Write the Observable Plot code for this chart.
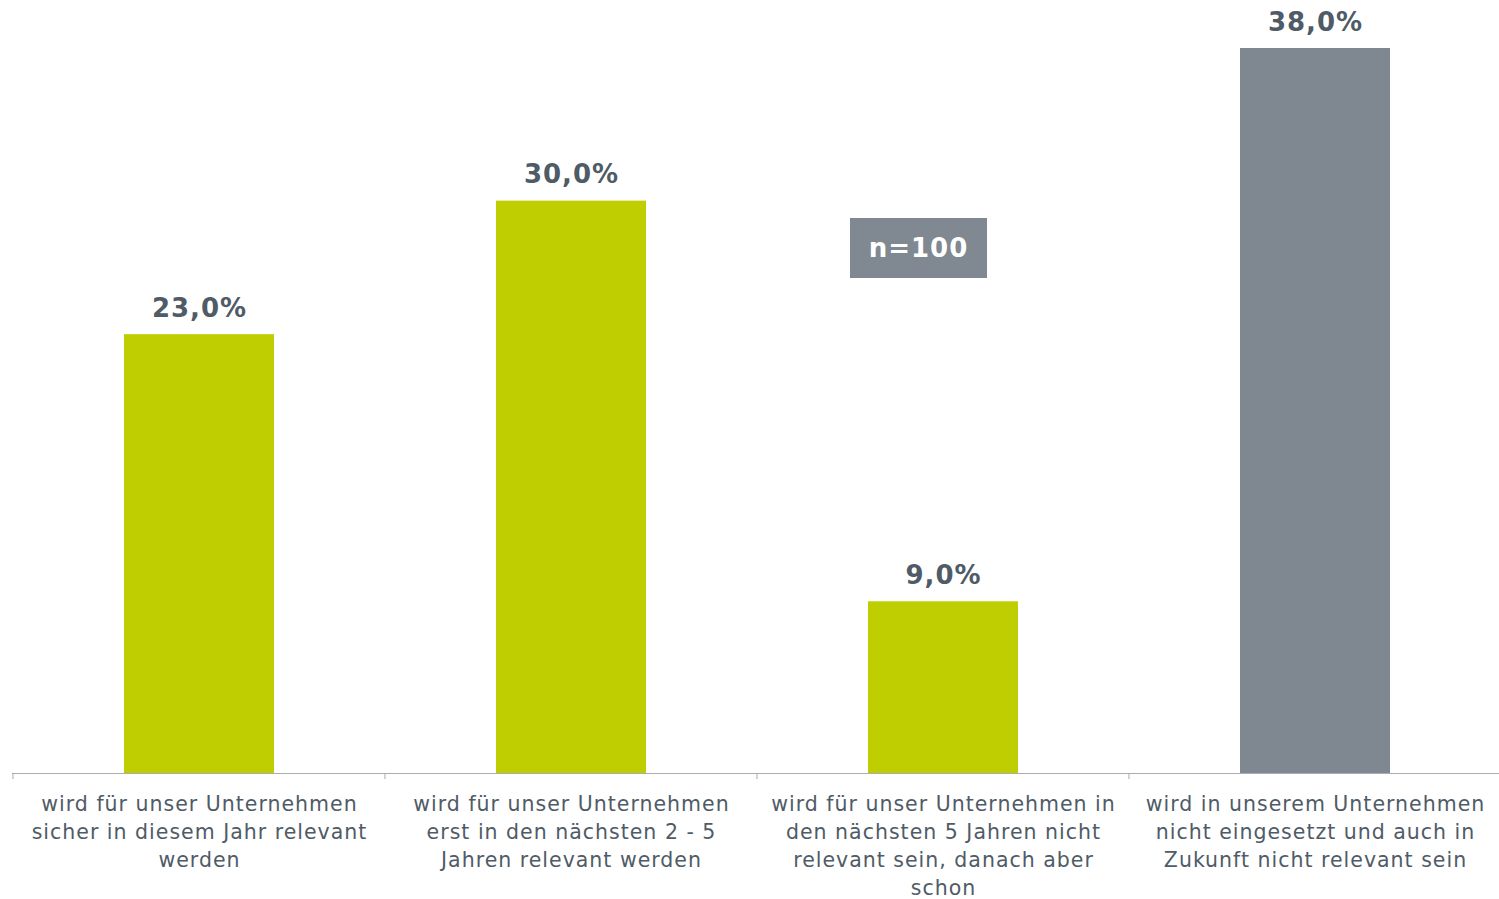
<!DOCTYPE html>
<html>
<head>
<meta charset="utf-8">
<script src="https://cdn.jsdelivr.net/npm/d3@7"></script>
<script src="https://cdn.jsdelivr.net/npm/@observablehq/plot@0.6"></script>
<style>
  html, body { margin: 0; padding: 0; background: #fff; overflow: hidden; }
  #wrap { position: relative; width: 1499px; height: 899px; overflow: hidden; }
  #wrap svg { overflow: visible; }
  #note {
    position: absolute; left: 850px; top: 218px; width: 137px; height: 60px;
    background: #808891; color: #fff; font: bold 26px "DejaVu Sans", Verdana, sans-serif;
    letter-spacing: 1px;
    display: flex; align-items: center; justify-content: center;
  }
  g[aria-label="x-axis tick label"] text { letter-spacing: 1px; }
  g.vlabels text { letter-spacing: 1px; }
</style>
</head>
<body>
<div id="wrap"><div id="note">n=100</div></div>
<script>
const categories = [
  "wird für unser Unternehmen\nsicher in diesem Jahr relevant\nwerden",
  "wird für unser Unternehmen\nerst in den nächsten 2 - 5\nJahren relevant werden",
  "wird für unser Unternehmen in\nden nächsten 5 Jahren nicht\nrelevant sein, danach aber\nschon",
  "wird in unserem Unternehmen\nnicht eingesetzt und auch in\nZukunft nicht relevant sein"
];
const values = [23.0, 30.0, 9.0, 38.0];
const groups = ["relevant", "relevant", "relevant", "nicht relevant"];
const sampleNote = "n=100";

const data = categories.map((c, i) => ({category: c, value: values[i], group: groups[i]}));
const fmt = v => v.toFixed(1).replace(".", ",") + "%";
const PI = 0.597;

function boundaryTicks(index, scales, channels, dimensions) {
  const x = scales.x, y = scales.y;
  const step = x(categories[1]) - x(categories[0]);
  const g = d3.create("svg:g").attr("stroke", "#a6adb4");
  const y0 = y(0);
  categories.forEach(c => {
    const bx = x(c) - step * PI / 2;
    g.append("line").attr("x1", bx).attr("x2", bx).attr("y1", y0).attr("y2", y0 + 6);
  });
  return g.node();
}

const chart = Plot.plot({
  width: 1499,
  height: 899,
  marginLeft: 12,
  marginRight: -3,
  marginTop: 48,
  marginBottom: 126,
  style: {fontFamily: "'DejaVu Sans', Verdana, sans-serif", background: "#fff"},
  x: {domain: categories, paddingInner: PI, paddingOuter: PI / 2},
  y: {domain: [0, 38], axis: null},
  color: {domain: ["relevant", "nicht relevant"], range: ["#bfce00", "#7f8790"]},
  marks: [
    Plot.barY(data, {x: "category", y: "value", fill: "group"}),
    Plot.ruleY([0], {stroke: "#a6adb4", strokeWidth: 1}),
    boundaryTicks,
    Plot.text(data, {x: "category", y: "value", text: d => fmt(d.value), dy: -26,
      fontSize: 26, fontWeight: "bold", fill: "#4f5b66", className: "vlabels"}),
    Plot.axisX({tickSize: 0, tickPadding: 18, fontSize: 20.5, lineHeight: 1.366,
      fill: "#4f5b66", label: null, textAnchor: "middle"})
  ]
});
document.getElementById("wrap").prepend(chart);
</script>
</body>
</html>
